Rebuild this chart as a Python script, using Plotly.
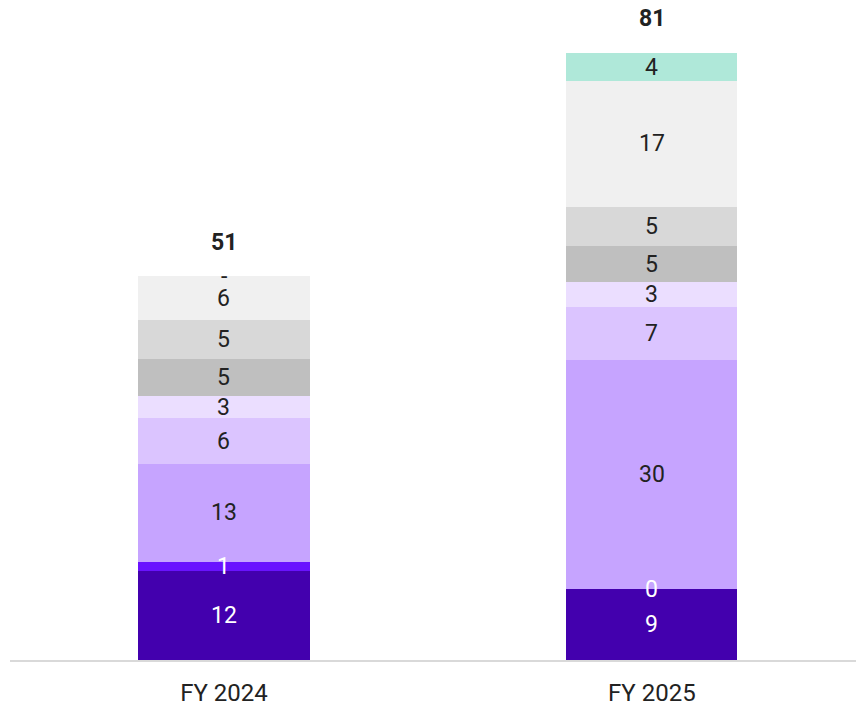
import plotly.graph_objects as go
import numpy as np

categories = ["FY 2024", "FY 2025"]
# segment values bottom -> top
seg_names = ["s1", "s2", "s3", "s4", "s5", "s6", "s7", "s8", "s9"]
fy2024 = [11.8, 1.3, 13.0, 6.1, 3.0, 4.9, 5.2, 5.8, 0.0]
fy2025 = [9.4, 0.0, 30.6, 7.0, 3.3, 4.8, 5.3, 16.7, 3.8]
labels2024 = ["12", "1", "13", "6", "3", "5", "5", "6", "-"]
labels2025 = ["9", "0", "30", "7", "3", "5", "5", "17", "4"]
totals = [51, 81]
colors = ["#4300AE", "#6A12FF", "#C6A4FF", "#DBC4FF", "#EBDEFF",
          "#BFBFBF", "#D8D8D8", "#F0F0F0", "#AFE8D9"]
text_colors = ["white", "white", "#222222", "#222222", "#222222",
               "#222222", "#222222", "#222222", "#222222"]

fig = go.Figure()
for i, name in enumerate(seg_names):
    fig.add_trace(go.Bar(
        x=categories, y=[fy2024[i], fy2025[i]], name=name,
        marker=dict(color=colors[i], line=dict(width=0)),
        width=0.4, hoverinfo="skip", showlegend=False,
    ))

# segment labels at segment midpoints
vals = np.array([fy2024, fy2025])
cum = np.cumsum(vals, axis=1)
mids = cum - vals / 2
labs = [labels2024, labels2025]
for c, cat in enumerate(categories):
    for i in range(len(seg_names)):
        fig.add_annotation(x=cat, y=mids[c, i], text=labs[c][i], showarrow=False,
                           font=dict(family="Roboto", size=23, color=text_colors[i]),
                           yanchor="middle")
    fig.add_annotation(x=cat, y=cum[c, -1], text="<b>%d</b>" % totals[c], showarrow=False,
                       yanchor="middle", yshift=34,
                       font=dict(family="Roboto", size=23, color="#222222"))

fig.update_layout(
    barmode="stack", width=856, height=707,
    margin=dict(l=10, r=0, t=22, b=43),
    plot_bgcolor="white", paper_bgcolor="white",
    font=dict(family="Roboto", size=23, color="#222222"),
    xaxis=dict(range=[-0.5, 1.477], showline=True, linecolor="#D9D9D9", linewidth=2,
               ticks="", ticklabelstandoff=10,
               tickfont=dict(family="Roboto", size=24, color="#222222")),
    yaxis=dict(range=[0, 85], visible=False, showgrid=False, zeroline=False),
    bargap=0,
)
fig.write_html("out.html", config={"displayModeBar": False},
               post_script="document.body.style.margin='0';document.body.style.overflow='hidden';")
